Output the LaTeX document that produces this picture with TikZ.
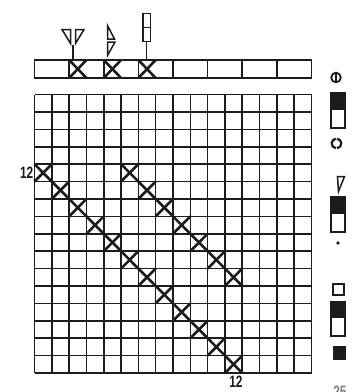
\documentclass[tikz,border=0pt]{standalone}
\usepackage{fontspec}
\newfontfamily\labfont[FakeStretch=0.72]{Liberation Sans}
\definecolor{ink}{HTML}{1C1C1C}
\begin{document}
\begin{tikzpicture}[x=1pt,y=-1pt,
  gridline/.style={line width=1.6pt, draw=ink},
  xmark/.style={line width=2.6pt, draw=ink},
  symb/.style={line width=1.5pt, draw=ink, line join=miter},
  stem/.style={line width=1.3pt, draw=ink},
  lab/.style={font=\labfont\bfseries\fontsize{16.5}{16.5}\selectfont, text=ink, inner sep=0pt}]
\useasboundingbox (0,0) rectangle (352,392);
\pgfmathsetmacro{\cw}{17.3125}
\pgfmathsetmacro{\rh}{17.40625}
% main grid
\foreach \i in {0,...,16}{
  \draw[gridline] ({34.5+\i*\cw},94.5) -- ({34.5+\i*\cw},373);
  \draw[gridline] (34.5,{94.5+\i*\rh}) -- (311.5,{94.5+\i*\rh});
}
% crosses
\foreach \k in {1,...,12}{
  \pgfmathsetmacro{\xa}{34.5+(\k-1)*\cw}
  \pgfmathsetmacro{\ya}{94.5+(\k+3)*\rh}
  \draw[xmark] (\xa,\ya) -- ++(\cw,\rh);
  \draw[xmark] (\xa+\cw,\ya) -- ++(-\cw,\rh);
}
\foreach \k in {1,...,7}{
  \pgfmathsetmacro{\xa}{34.5+(\k+4)*\cw}
  \pgfmathsetmacro{\ya}{94.5+(\k+3)*\rh}
  \draw[xmark] (\xa,\ya) -- ++(\cw,\rh);
  \draw[xmark] (\xa+\cw,\ya) -- ++(-\cw,\rh);
}
% top strip
\draw[gridline] (34.5,60) rectangle (311.5,78);
\foreach \i in {1,...,7}{
  \draw[gridline] ({34.5+2*\i*\cw},60) -- ({34.5+2*\i*\cw},78);
}
\foreach \c in {3,5,7}{
  \pgfmathsetmacro{\xa}{34.5+(\c-1)*\cw}
  \draw[xmark] (\xa,60) -- ++(\cw,18);
  \draw[xmark] (\xa+\cw,60) -- ++(-\cw,18);
  \coordinate (x\c) at ({\xa+0.5*\cw},60);
}
% symbols above the strip
\draw[symb] (62,29.5) -- (70.5,29.5) -- (70.5,43.5) -- cycle;
\draw[symb] (75.5,29.5) -- (84,29.5) -- (75.5,43.5) -- cycle;
\coordinate (s1) at (73,45);
\draw[stem] (s1) -- (s1 |- x3);
\draw[symb] (107.5,25.5) -- (107.5,39) -- (114.5,39) -- cycle;
\draw[symb] (107.5,42) -- (115,42) -- (107.5,55.5) -- cycle;
\draw[symb] (143,13.5) rectangle (150.5,41.5);
\draw[symb] (143,27.5) -- (150.5,27.5);
\coordinate (s3) at (146.8,41.5);
\draw[stem] (s3) -- (s3 |- x7);
% labels
\node[lab, anchor=east] (l12) at (33.5,173) {12};
\node[lab] (b12) at (236,381.5) {12};
\node[lab, text=ink!55, anchor=north] (pg) at (340,385.5) {25};
% legend
\draw[line width=1.8pt, draw=ink] (336,77.5) circle (4.8);
\draw[line width=1.6pt, draw=ink] (336,72.5) -- (336,82.5);
\fill[ink] (331,93) rectangle (345,110);
\draw[symb] (331,93) rectangle (345,128);
\draw[line width=2.2pt, draw=ink] (336.5,143.5) ++(97:4.8) arc (97:263:4.8);
\draw[line width=2.2pt, draw=ink] (336.5,143.5) ++(83:4.8) arc (83:-83:4.8);
\draw[symb] (337.5,176.5) -- (344.5,176.5) -- (338.5,191.5) -- cycle;
\fill[ink] (331,197) rectangle (345,214);
\draw[symb] (331,197) rectangle (345,232);
\fill[ink] (338,243) circle (1.8);
\draw[symb] (333,284) rectangle (344,295);
\fill[ink] (331,302) rectangle (345,318);
\draw[symb] (331,302) rectangle (345,336);
\fill[ink] (333,345.5) rectangle (346,359.5);
\end{tikzpicture}
\end{document}
